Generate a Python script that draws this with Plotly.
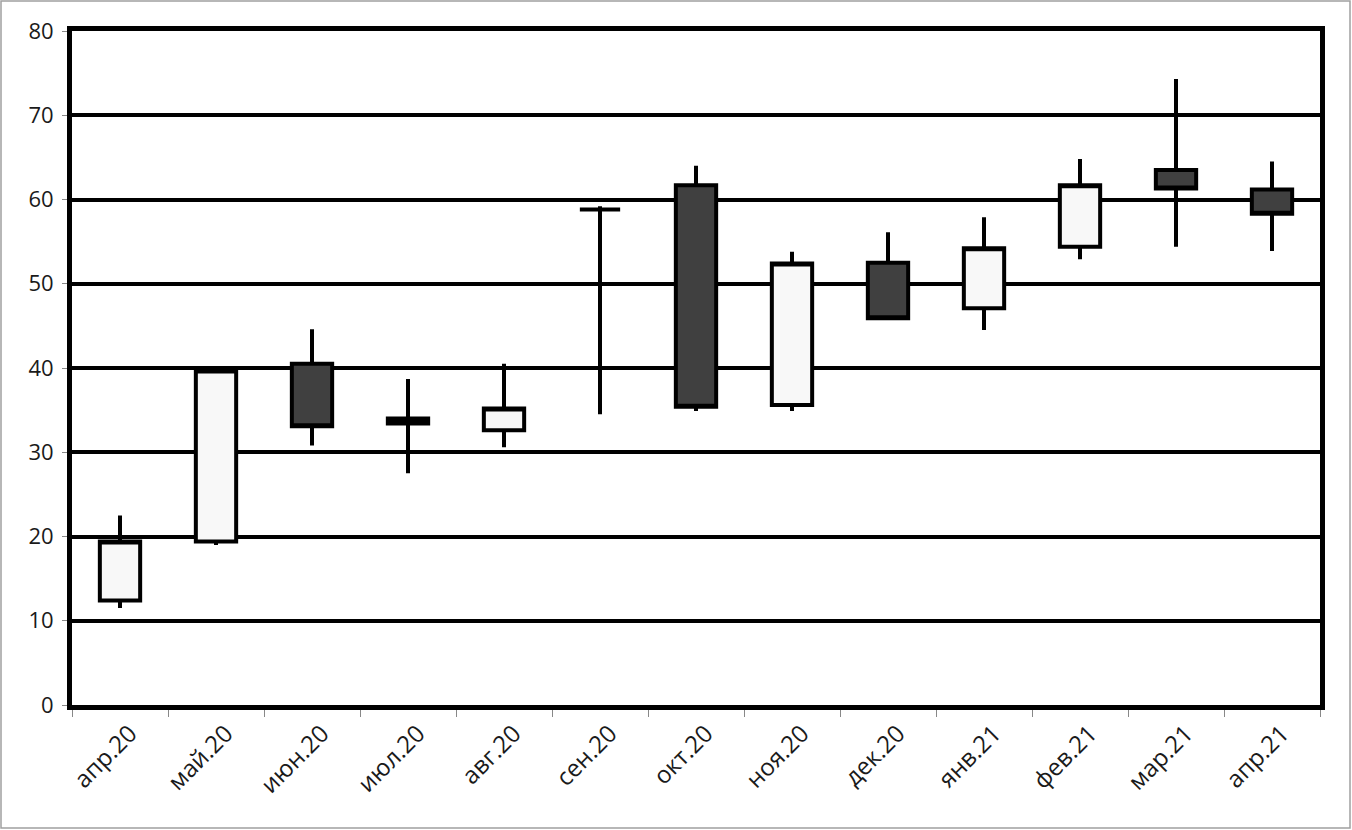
import plotly.graph_objects as go

months = ["апр.20", "май.20", "июн.20", "июл.20", "авг.20", "сен.20", "окт.20",
          "ноя.20", "дек.20", "янв.21", "фев.21", "мар.21", "апр.21"]
open_ = [12.4, 19.4, 40.5, 34.0, 32.6, 58.8, 61.7, 35.6, 52.5, 47.1, 54.4, 63.5, 61.2]
high = [22.5, 39.8, 44.6, 38.7, 40.5, 59.2, 64.0, 53.8, 56.1, 57.9, 64.8, 74.3, 64.5]
low = [11.5, 19.0, 30.8, 27.5, 30.6, 34.5, 34.9, 34.9, 45.8, 44.5, 52.9, 54.4, 53.9]
close = [19.4, 39.7, 33.1, 33.4, 35.2, 58.8, 35.4, 52.4, 45.9, 54.2, 61.7, 61.3, 58.3]
y_ticks = [0, 10, 20, 30, 40, 50, 60, 70, 80]

fig = go.Figure()
fig.add_trace(go.Candlestick(
    x=months, open=open_, high=high, low=low, close=close,
    increasing=dict(fillcolor="#f8f8f8", line=dict(color="black", width=4)),
    decreasing=dict(fillcolor="#404040", line=dict(color="black", width=4)),
    whiskerwidth=0, showlegend=False, hoverinfo="x+y",
))

L, R, T, B = 72, 32, 31, 125
W, H = 1352, 830
pw = W - L - R
ph = H - T - B

fig.update_layout(
    width=W, height=H,
    margin=dict(l=L, r=R, t=T, b=B),
    paper_bgcolor="white", plot_bgcolor="white",
    boxgap=0.4,
    font=dict(family="Open Sans", size=18, color="#1a1a1a"),
    xaxis=dict(
        type="category", rangeslider=dict(visible=False),
        tickson="boundaries", ticks="outside", ticklen=7, tickcolor="#888",
        tickwidth=1, tickangle=-45, showgrid=False,
        showline=True, linecolor="black", linewidth=5, mirror=True,
        tickfont=dict(size=24), ticklabelshift=10,
    ),
    yaxis=dict(
        range=[0, 80], tickvals=y_ticks, ticks="outside", ticklen=5,
        tickcolor="#888", showgrid=True, gridcolor="black", gridwidth=4,
        showline=True, linecolor="black", linewidth=5, mirror=True,
        zeroline=False, ticklabelstandoff=4, tickfont=dict(size=22),
    ),
    shapes=[dict(
        type="rect", xref="paper", yref="paper",
        x0=(1 - L) / pw, x1=(W - 2 - L) / pw,
        y0=-(B - 2) / ph,
        y1=(T - 1) / ph + 1,
        line=dict(color="#a0a0a0", width=1.5), fillcolor="rgba(0,0,0,0)",
        layer="below",
    )],
)

fig.write_html("out.html")
